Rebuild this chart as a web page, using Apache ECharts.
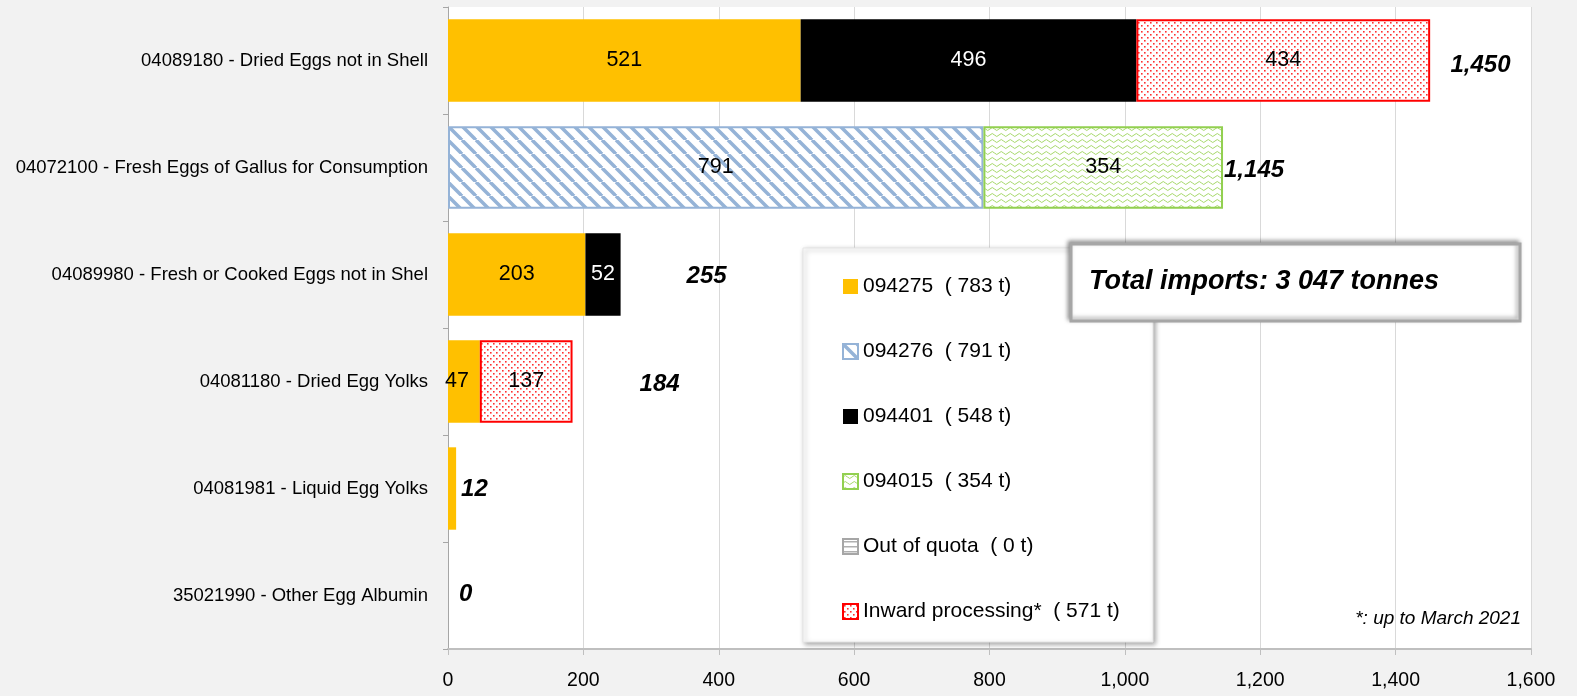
<!DOCTYPE html>
<html><head><meta charset="utf-8">
<script src="https://cdn.jsdelivr.net/npm/echarts@6/dist/echarts.min.js"></script>
<style>html,body{margin:0;padding:0;background:#f2f2f2;}#c{width:1577px;height:696px;}</style>
</head><body><div id="c"></div>
<script>
// ---- data ----
const categories = [
  '04089180 - Dried Eggs not in Shell',
  '04072100 - Fresh Eggs of Gallus for Consumption',
  '04089980 - Fresh or Cooked Eggs not in Shel',
  '04081180 - Dried Egg Yolks',
  '04081981 - Liquid Egg Yolks',
  '35021990 - Other Egg Albumin'
];
const seriesNames = ['094275', '094276', '094401', '094015', 'Out of quota', 'Inward processing*'];
const q094275 = [521, 0, 203, 47, 12, 0];
const q094276 = [0, 791, 0, 0, 0, 0];
const q094401 = [496, 0, 52, 0, 0, 0];
const q094015 = [0, 354, 0, 0, 0, 0];
const outOfQuota = [0, 0, 0, 0, 0, 0];
const inwardProcessing = [434, 0, 0, 137, 0, 0];
const rowTotals = [1450, 1145, 255, 184, 12, 0];
const legendTotals = [783, 791, 548, 354, 0, 571];
const totalImports = '3 047';
const footnote = '*: up to March 2021';
const xMin = 0, xMax = 1600, xInterval = 200;

// ---- styling ----
const SANS = "'Liberation Sans', Arial, sans-serif";

function pattern(w, h, draw) {
  const c = document.createElement('canvas');
  c.width = w; c.height = h;
  const ctx = c.getContext('2d');
  ctx.fillStyle = '#ffffff';
  ctx.fillRect(0, 0, w, h);
  draw(ctx);
  return { image: c, repeat: 'repeat' };
}
const bluePat = pattern(14, 14, ctx => {
  ctx.strokeStyle = '#95B3D7'; ctx.lineWidth = 3.5;
  [-14, 0, 14].forEach(k => { ctx.beginPath(); ctx.moveTo(k, 0); ctx.lineTo(k + 14, 14); ctx.stroke(); });
});
const greenPat = pattern(9, 6, ctx => {
  ctx.strokeStyle = '#a6d86a'; ctx.lineWidth = 1;
  ctx.beginPath(); ctx.moveTo(0, 3);
  ctx.quadraticCurveTo(2.25, 0, 4.5, 3); ctx.quadraticCurveTo(6.75, 6, 9, 3); ctx.stroke();
});
const redPat = pattern(6, 6, ctx => {
  ctx.fillStyle = '#ff3030';
  ctx.fillRect(1, 1, 1.6, 1.6); ctx.fillRect(4, 4, 1.6, 1.6);
});
const grayPat = pattern(6, 5, ctx => {
  ctx.fillStyle = '#b0b0b0'; ctx.fillRect(0, 2, 6, 1.5);
});

const seriesData = [q094275, q094276, q094401, q094015, outOfQuota, inwardProcessing];
const seriesStyles = [
  { color: '#FFC000', borderWidth: 0, text: '#000' },
  { color: bluePat, borderColor: '#95B3D7', borderWidth: 2, text: '#000' },
  { color: '#000000', borderWidth: 0, text: '#fff' },
  { color: greenPat, borderColor: '#92D050', borderWidth: 2, text: '#000' },
  { color: grayPat, borderColor: '#a6a6a6', borderWidth: 2, text: '#000' },
  { color: redPat, borderColor: '#FF0000', borderWidth: 2, text: '#000' }
];
const innerLabelOffsets = { '0-3': [-7, 0] };
const hideInnerLabel = { '0-4': true };
const totalLabelOffsets = [[21, 5], [1, 3], [66, 2], [67, 3], [5, 1], [11, -1]];

const series = seriesData.map((arr, si) => ({
  name: seriesNames[si],
  type: 'bar',
  stack: 'q',
  barCategoryGap: '23%',
  barGap: '-100%',
  z: 3,
  itemStyle: {
    color: seriesStyles[si].color,
    borderColor: seriesStyles[si].borderColor || 'transparent',
    borderWidth: seriesStyles[si].borderWidth
  },
  label: {
    show: true, position: 'inside',
    fontFamily: SANS, fontSize: 21.5, color: seriesStyles[si].text
  },
  emphasis: { disabled: true },
  data: arr.map((v, i) => {
    if (!v) return null;
    const item = { value: v };
    const key = si + '-' + i;
    if (innerLabelOffsets[key]) item.label = { offset: innerLabelOffsets[key] };
    if (hideInnerLabel[key]) item.label = { show: false };
    return item;
  })
}));
series.push({
  name: 'Total', type: 'bar',
  barCategoryGap: '23%', barGap: '-100%', z: 1, silent: true,
  itemStyle: { color: 'rgba(0,0,0,0)' },
  label: {
    show: true, position: 'right', distance: 0,
    fontFamily: SANS, fontWeight: 'bold', fontStyle: 'italic', fontSize: 24, color: '#000',
    formatter: p => p.value.toLocaleString('en-US')
  },
  data: rowTotals.map((v, i) => ({ value: v, label: { offset: totalLabelOffsets[i] } }))
});

const chart = echarts.init(document.getElementById('c'), null, { renderer: 'canvas' });
chart.setOption({
  backgroundColor: '#f2f2f2',
  animation: false,
  grid: { left: 448, right: 46, top: 7, bottom: 47, show: true, backgroundColor: '#ffffff',
    borderWidth: 0, containLabel: false, outerBoundsMode: 'none' },
  xAxis: {
    type: 'value', min: xMin, max: xMax, interval: xInterval,
    axisLine: { show: true, lineStyle: { color: '#bfbfbf', width: 2 } },
    axisTick: { show: true, length: 6, lineStyle: { color: '#bfbfbf' } },
    splitLine: { show: true, lineStyle: { color: '#d9d9d9', width: 1 } },
    axisLabel: { fontFamily: SANS, fontSize: 19.5, color: '#000', margin: 22,
      formatter: v => v.toLocaleString('en-US') }
  },
  yAxis: {
    type: 'category', data: categories, inverse: true,
    axisLine: { show: true, lineStyle: { color: '#a6a6a6', width: 1 } },
    axisTick: { show: true, length: 5, lineStyle: { color: '#a6a6a6' } },
    axisLabel: { fontFamily: SANS, fontSize: 18.5, color: '#000', margin: 20 }
  },
  legend: {
    data: seriesNames,
    orient: 'vertical', left: 837, top: 271,
    icon: 'rect',
    itemWidth: 15, itemHeight: 15, itemGap: 44,
    selectedMode: false, z: 6,
    textStyle: { fontFamily: SANS, fontSize: 21, color: '#000' },
    formatter: name => name + '  ( ' + legendTotals[seriesNames.indexOf(name)] + ' t)'
  },
  series: series,
  graphic: [
    { type: 'rect', z: 5, silent: true,
      shape: { x: 803, y: 248, width: 350, height: 394 },
      style: { fill: '#ffffff', stroke: '#e6e6e6', lineWidth: 1,
        shadowBlur: 5, shadowOffsetX: 2, shadowOffsetY: 2, shadowColor: 'rgba(0,0,0,0.35)' } },
    { type: 'rect', z: 10, silent: true,
      shape: { x: 1071, y: 244, width: 449, height: 77 },
      style: { fill: '#ffffff', stroke: '#a6a6a6', lineWidth: 3,
        shadowBlur: 4, shadowOffsetX: -2, shadowOffsetY: -2, shadowColor: 'rgba(0,0,0,0.35)' } },
    { type: 'text', z: 11, silent: true, x: 1089, y: 282,
      style: { text: 'Total imports: ' + totalImports + ' tonnes', fill: '#000',
        font: "italic bold 27px 'Liberation Sans', Arial, sans-serif",
        textAlign: 'left', textVerticalAlign: 'middle' } },
    { type: 'text', z: 6, silent: true, x: 1521, y: 619,
      style: { text: footnote, fill: '#000',
        font: "italic 19px 'Liberation Sans', Arial, sans-serif",
        textAlign: 'right', textVerticalAlign: 'middle' } }
  ]
});
</script>
</body></html>
